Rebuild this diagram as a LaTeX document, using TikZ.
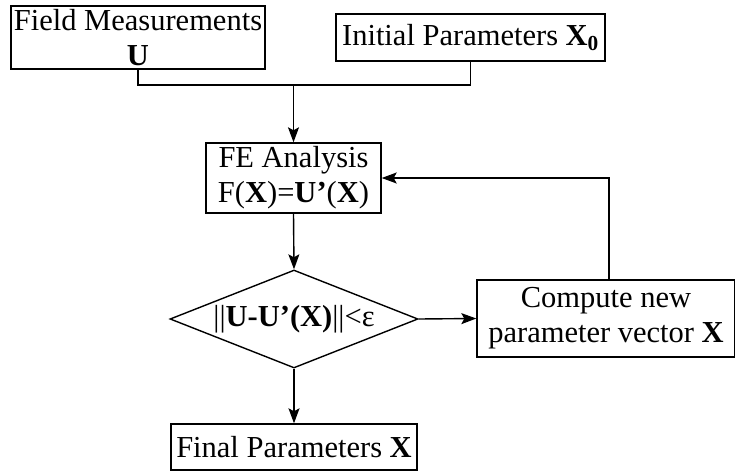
\documentclass[tikz,border=0pt]{standalone}
\usepackage{fontspec}
\setmainfont{Liberation Serif}
\usetikzlibrary{shapes.geometric,arrows.meta}
\begin{document}
\begin{tikzpicture}[x=1pt,y=-1pt,
  every node/.style={font=\fontsize{30.5}{35}\selectfont, inner sep=0pt, align=center},
  stepbox/.style={draw, line width=1.4pt, rectangle},
  decide/.style={draw, line width=1.4pt, diamond, aspect=2.53},
  link/.style={line width=1.4pt},
  arr/.style={link, -{Stealth[length=15pt,width=11pt,inset=3pt]}}]
  \useasboundingbox (0,0) rectangle (735,471);

  % input boxes
  \node[stepbox, minimum width=254pt, minimum height=63pt] (fm) at (138,37.5)
    {Field Measurements\\\textbf{U}};
  \node[stepbox, minimum width=269pt, minimum height=47pt] (ip) at (470.5,37.5)
    {Initial Parameters \textbf{X}\textsubscript{\textbf{0}}};

  % analysis loop
  \node[stepbox, minimum width=175pt, minimum height=70pt] (fe) at (293.5,178)
    {FE Analysis\\F(\textbf{X})=\textbf{U’}(\textbf{X})};
  \node[decide, minimum width=248pt, minimum height=98pt] (chk) at (294,319)
    {||\textbf{U-U’(X)}||<ε};
  \node[stepbox, minimum width=258pt, minimum height=77pt] (cmp) at (606,318.5)
    {Compute new\\parameter vector \textbf{X}};
  \node[stepbox, minimum width=246pt, minimum height=46pt] (fin) at (294,447)
    {Final Parameters \textbf{X}};

  % junction of the two inputs
  \coordinate (j) at (293.5,85);
  \coordinate (jl) at (fm.south |- j);
  \coordinate (jr) at (ip.south |- j);
  \draw[link] (fm.south) -- (jl) -- (jr) -- (ip.south);
  \draw[arr] (j) -- (fe.north);

  \draw[arr] (fe.south) -- (chk.north);
  \draw[arr] (chk.east) -- (cmp.west);
  \draw[arr] (chk.south) -- (fin.north);

  % feedback from the update step
  \coordinate (up) at (609,318.5);
  \draw[arr] (up |- cmp.north) -- (up |- fe.east) -- (fe.east);
\end{tikzpicture}
\end{document}
